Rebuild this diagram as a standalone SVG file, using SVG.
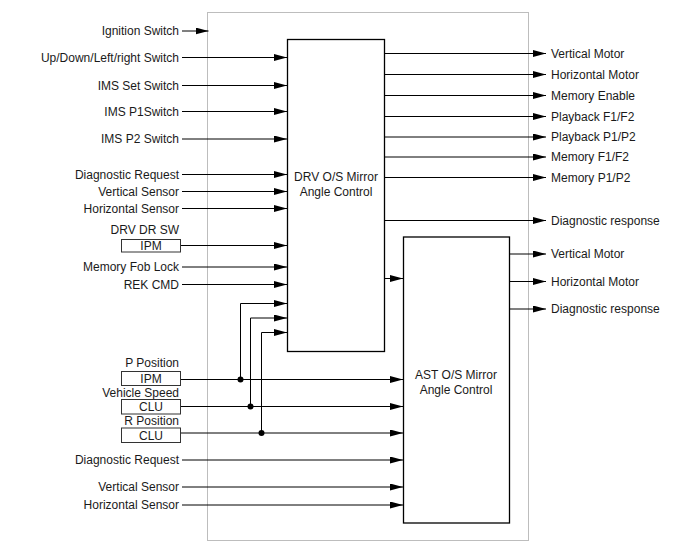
<svg xmlns="http://www.w3.org/2000/svg" width="700" height="553" viewBox="0 0 700 553">
<defs>
<style>
text{font-family:"Liberation Sans",Arial,sans-serif;font-size:12px;fill:#1a1a1a}
.l{text-anchor:end}
.m{text-anchor:middle}
.w{fill:none;stroke:#000;stroke-width:1}
.a{marker-end:url(#arr)}
.blk{fill:#fff;stroke:#000;stroke-width:1.3}
.src{fill:#fff;stroke:#333;stroke-width:1}
</style>
<marker id="arr" markerUnits="userSpaceOnUse" markerWidth="14" markerHeight="8" refX="13" refY="3.5" orient="auto">
<path d="M0,0 L13,3.5 L0,7 z" fill="#000"/>
</marker>
</defs>
<rect width="700" height="553" fill="#fff"/>
<rect id="frame" x="207.5" y="12.5" width="321" height="528" fill="none" stroke="#bdbdbd" stroke-width="1"/>

<g id="drv">
<rect class="blk" x="287.5" y="39.5" width="97" height="312"/>
<text class="m" x="336" y="181">DRV O/S Mirror</text>
<text class="m" x="336" y="196">Angle Control</text>
</g>
<g id="ast">
<rect class="blk" x="403.5" y="237" width="106" height="286"/>
<text class="m" x="456" y="378.5">AST O/S Mirror</text>
<text class="m" x="456" y="393.5">Angle Control</text>
</g>

<g id="sources">
<text class="l" x="179" y="35">Ignition Switch</text>
<text class="l" x="179" y="61.5">Up/Down/Left/right Switch</text>
<text class="l" x="179" y="89.5">IMS Set Switch</text>
<text class="l" x="179" y="116">IMS P1Switch</text>
<text class="l" x="179" y="143">IMS P2 Switch</text>
<text class="l" x="179" y="179">Diagnostic Request</text>
<text class="l" x="179" y="196">Vertical Sensor</text>
<text class="l" x="179" y="212.5">Horizontal Sensor</text>
<text class="l" x="179" y="234">DRV DR SW</text>
<g id="ipm1"><rect class="src" x="121.5" y="239.5" width="59" height="12.5"/><text class="m" x="151" y="250">IPM</text></g>
<text class="l" x="179" y="271">Memory Fob Lock</text>
<text class="l" x="179" y="288.5">REK CMD</text>
<text class="l" x="179" y="367">P Position</text>
<g id="ipm2"><rect class="src" x="121.5" y="371.5" width="59" height="14"/><text class="m" x="151" y="383">IPM</text></g>
<text class="l" x="179" y="397">Vehicle Speed</text>
<g id="clu1"><rect class="src" x="121.5" y="399.5" width="59" height="14.5"/><text class="m" x="151" y="411">CLU</text></g>
<text class="l" x="179" y="425">R Position</text>
<g id="clu2"><rect class="src" x="121.5" y="428" width="59" height="14.5"/><text class="m" x="151" y="439.5">CLU</text></g>
<text class="l" x="179" y="464">Diagnostic Request</text>
<text class="l" x="179" y="491">Vertical Sensor</text>
<text class="l" x="179" y="509">Horizontal Sensor</text>
</g>

<g id="sinks">
<text x="551" y="57.5">Vertical Motor</text>
<text x="551" y="78.5">Horizontal Motor</text>
<text x="551" y="99.5">Memory Enable</text>
<text x="551" y="120.5">Playback F1/F2</text>
<text x="551" y="141">Playback P1/P2</text>
<text x="551" y="161">Memory F1/F2</text>
<text x="551" y="181.5">Memory P1/P2</text>
<text x="551" y="225">Diagnostic response</text>
<text x="551" y="258">Vertical Motor</text>
<text x="551" y="285.5">Horizontal Motor</text>
<text x="551" y="313">Diagnostic response</text>
</g>

<g id="connectors">
<line class="w a" x1="182" y1="31" x2="208.5" y2="31"/>
<line class="w a" x1="182" y1="57.5" x2="287" y2="57.5"/>
<line class="w a" x1="182" y1="85.5" x2="287" y2="85.5"/>
<line class="w a" x1="182" y1="111.5" x2="287" y2="111.5"/>
<line class="w a" x1="182" y1="139" x2="287" y2="139"/>
<line class="w a" x1="182" y1="174.5" x2="287" y2="174.5"/>
<line class="w a" x1="182" y1="191.5" x2="287" y2="191.5"/>
<line class="w a" x1="182" y1="208.5" x2="287" y2="208.5"/>
<line class="w a" x1="181" y1="245.5" x2="287" y2="245.5"/>
<line class="w a" x1="182" y1="267" x2="287" y2="267"/>
<line class="w a" x1="182" y1="284.5" x2="287" y2="284.5"/>
<polyline class="w a" points="240.5,379.5 240.5,303.5 287,303.5"/>
<polyline class="w a" points="250.5,406.5 250.5,318 287,318"/>
<polyline class="w a" points="261.5,433 261.5,332.5 287,332.5"/>
<line class="w a" x1="385" y1="278.5" x2="403" y2="278.5"/>
<line class="w a" x1="181" y1="379.5" x2="403" y2="379.5"/>
<line class="w a" x1="181" y1="406.5" x2="403" y2="406.5"/>
<line class="w a" x1="181" y1="433" x2="403" y2="433"/>
<circle cx="240.5" cy="379.5" r="3" fill="#000"/>
<circle cx="250.5" cy="406.5" r="3" fill="#000"/>
<circle cx="261.5" cy="433" r="3" fill="#000"/>
<line class="w a" x1="182" y1="460" x2="403" y2="460"/>
<line class="w a" x1="182" y1="487" x2="403" y2="487"/>
<line class="w a" x1="182" y1="505" x2="403" y2="505"/>
<line class="w a" x1="385" y1="53.5" x2="546" y2="53.5"/>
<line class="w a" x1="385" y1="74.5" x2="546" y2="74.5"/>
<line class="w a" x1="385" y1="95.5" x2="546" y2="95.5"/>
<line class="w a" x1="385" y1="116.5" x2="546" y2="116.5"/>
<line class="w a" x1="385" y1="137" x2="546" y2="137"/>
<line class="w a" x1="385" y1="157" x2="546" y2="157"/>
<line class="w a" x1="385" y1="177.5" x2="546" y2="177.5"/>
<line class="w a" x1="385" y1="220.5" x2="546" y2="220.5"/>
<line class="w a" x1="510" y1="254" x2="546" y2="254"/>
<line class="w a" x1="510" y1="281.5" x2="546" y2="281.5"/>
<line class="w a" x1="510" y1="309" x2="546" y2="309"/>
</g>
</svg>
